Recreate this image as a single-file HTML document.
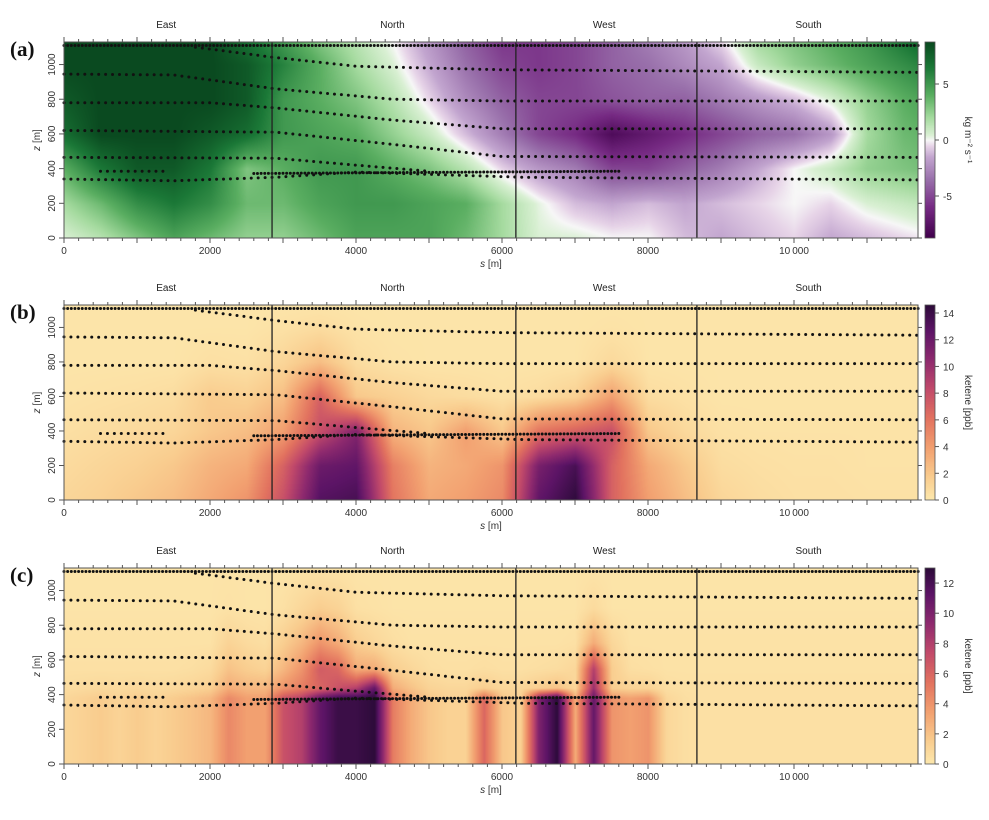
<!DOCTYPE html>
<html><head><meta charset="utf-8">
<style>
body{margin:0;background:#fff;width:989px;height:820px;overflow:hidden;position:relative;font-family:"Liberation Sans",sans-serif}
canvas{position:absolute}
svg{position:absolute;left:0;top:0}
</style></head>
<body>
<canvas id="ha" width="854" height="196" style="left:64px;top:42px"></canvas>
<canvas id="hb" width="854" height="195" style="left:64px;top:305px"></canvas>
<canvas id="hc" width="854" height="196" style="left:64px;top:568px"></canvas>
<canvas id="ca" width="10" height="196" style="left:925px;top:42px"></canvas>
<canvas id="cb" width="10" height="195" style="left:925px;top:305px"></canvas>
<canvas id="cc" width="10" height="196" style="left:925px;top:568px"></canvas>
<svg id="ov" width="989" height="820"></svg>
<script>
// ---- shared axis data ----
const sTicks = [0,2000,4000,6000,8000,10000];
const sTickLabels = ["0","2000","4000","6000","8000","10\u2009000"];
const zTicks = [0,200,400,600,800,1000];
const dividers = [2850,6190,8670];
const regionNames = ["East","North","West","South"];
const regionCenters = [1400,4500,7400,10200];

// ---- panel a grid (PRGn flux) ----
const aS = [0,500,1000,1500,2000,2500,3000,3500,4000,4500,5000,5500,6000,6500,7000,7500,8000,8500,9000,9500,10000,10500,11000,11500,12000];
const aZ = [0,200,400,600,800,1000,1130];
const aRow0   =[0.5,1.5,3,4.5,3.5,2.5,2.5,3.5,4.5,4.5,4.5,3.5,2,0.5,0.5,0,0,-1,-1.5,-1,-0.5,-1.5,-1,-0.5,0];
const aRow200 =[2,3.5,5.5,6.5,5.5,3.5,3.5,4.5,5,5,4.5,4,2,0.3,-1,-1.5,-1,-1.5,-1,-0.5,0,-0.5,0.5,1,1.5];
const aRow400 =[4,6.5,8,8,6.5,3,4,5,5,4,3,1.5,-0.5,-2,-3,-5,-5,-4,-3,-1.5,0,1,2.5,3,3.5];
const aRow600 =[7,8.8,8.8,8.8,8,7,5,4.5,4,2.5,1,-1,-3,-5,-6,-8,-7,-6,-5,-4,-3.5,-2,2,3.5,4];
const aRow800 =[8,8.8,8.8,8.8,8.8,8,5,4,3,1.5,-0.5,-2.5,-4,-5,-5,-4.5,-4,-4,-3,-2,-1,0.5,2.5,4,5];
const aRow1000=[8.8,8.8,8.8,8.8,8.8,8,6,4,2,0.5,-1.5,-3.5,-5,-5.5,-5,-4,-3.5,-2.5,-1.5,1,2.5,3.5,4.5,5.5,6.5];
const aRow1130=[8.8,8.8,8.8,8.8,8.8,7,5,3,1.5,0,-2,-4,-5.5,-5.5,-5,-4,-3,-2,-0.5,2,3,4,5,6.5,8];

// ---- panel b grid (ketene, interpolated) ----
const bS = [0,500,1000,1500,2000,2500,3000,3500,4000,4500,5000,5500,6000,6500,7000,7500,8000,8500,9000,9500,10000,10500,11000,11500,12000];
const bZ = [0,200,400,600,800,1000,1130];
const bRow0   =[1.2,1.5,2,2.5,3.5,4.5,8,13,13.5,6,3.5,4,5,12.5,14.5,7,4,2.5,1.2,0.8,0.6,0.6,0.5,0.5,0.5];
const bRow200 =[0.9,1.2,1.5,2,3,3.5,7,12,12.5,5.5,3,3.5,4.5,11.5,13.5,7,3.5,2,0.8,0.6,0.5,0.5,0.4,0.4,0.4];
const bRow400 =[0.6,0.8,1,1.2,2,2.5,4,8,11,3,2,4,2,6,7,8,2,1,0.5,0.4,0.4,0.4,0.4,0.4,0.4];
const bRow600 =[0.4,0.5,0.6,0.8,1.8,1.5,2.5,7,2,1.5,1,0.8,0.5,0.8,1.5,4,0.8,0.5,0.3,0.3,0.3,0.3,0.3,0.3,0.3];
const bRow800 =[0.3,0.3,0.3,0.3,0.6,0.5,1.2,2.5,0.8,0.4,0.3,0.3,0.3,0.3,0.3,1,0.3,0.3,0.3,0.3,0.3,0.3,0.3,0.3,0.3];
const bRow1000=[0.3,0.3,0.3,0.3,0.3,0.3,0.5,0.8,0.4,0.3,0.3,0.3,0.3,0.3,0.3,0.4,0.3,0.3,0.3,0.3,0.3,0.3,0.3,0.3,0.3];
const bRow1130=[0.3,0.3,0.3,0.3,0.3,0.3,0.3,0.3,0.3,0.3,0.3,0.3,0.3,0.3,0.3,0.3,0.3,0.3,0.3,0.3,0.3,0.3,0.3,0.3,0.3];

// ---- panel c grid (ketene, column-wise) ----
const cS = [0,250,500,750,1000,1250,1500,1750,2000,2250,2500,2750,3000,3250,3500,3750,4000,4250,4500,4750,5000,5250,5500,5750,6000,6250,6500,6750,7000,7250,7500,7750,8000,8250,8500,8750,9000,9250,9500,9750,10000,10250,10500,10750,11000,11250,11500,11750,12000];
const cZ = [0,380,440,550,700,900,1130];
const cRow0  =[1,1.3,1.6,1.2,1.6,1.2,1.6,2,2.5,4.5,3.5,3.5,7,8,11,12.5,12.5,13,5,3,1.8,1.3,1.3,6,1.8,1.3,10,13,3,11,4,3.5,4,1,0.6,0.5,0.5,0.5,0.5,0.5,0.5,0.5,0.5,0.5,0.5,0.5,0.5,0.5,0.5];
const cRow380=[1,1.3,1.6,1.2,1.6,1.2,1.6,2,2.5,4.5,3.5,3.5,7,8,11,12.5,12.5,13,5,3,1.8,1.3,1.3,6,1.8,1.3,10,13,3,11,4,3.5,4,1,0.6,0.5,0.5,0.5,0.5,0.5,0.5,0.5,0.5,0.5,0.5,0.5,0.5,0.5,0.5];
const cRow440=[0.7,0.8,0.9,0.8,0.9,0.8,0.9,1.1,1.4,3,2.5,2.5,4,5,6,7,8,11,3,2,1.2,1,1,1.5,1,1,1.5,2,1,9,1.5,1.2,1.2,0.6,0.5,0.5,0.5,0.5,0.5,0.5,0.5,0.5,0.5,0.5,0.5,0.5,0.5,0.5,0.5];
const cRow550=[0.5,0.5,0.5,0.5,0.5,0.5,0.5,0.6,0.8,2,1.5,1.2,2.5,4,6.5,6,3,3,1.5,1,0.6,0.5,0.5,0.6,0.5,0.5,0.6,0.7,1,8,1.5,0.6,0.5,0.4,0.4,0.4,0.4,0.4,0.4,0.4,0.4,0.4,0.4,0.4,0.4,0.4,0.4,0.4,0.4];
const cRow700=[0.4,0.4,0.4,0.4,0.4,0.4,0.4,0.4,0.4,1.2,0.8,0.6,1.5,2.5,4,3,1.5,1,0.6,0.4,0.4,0.4,0.4,0.4,0.4,0.4,0.4,0.4,0.5,3,1,0.4,0.4,0.4,0.4,0.4,0.4,0.4,0.4,0.4,0.4,0.4,0.4,0.4,0.4,0.4,0.4,0.4,0.4];
const cRow900=[0.3,0.3,0.3,0.3,0.3,0.3,0.3,0.3,0.3,0.4,0.3,0.3,0.5,1,1.5,1.2,0.5,0.4,0.3,0.3,0.3,0.3,0.3,0.3,0.3,0.3,0.3,0.3,0.3,0.8,0.3,0.3,0.3,0.3,0.3,0.3,0.3,0.3,0.3,0.3,0.3,0.3,0.3,0.3,0.3,0.3,0.3,0.3,0.3];
const cRow1130=[0.3,0.3,0.3,0.3,0.3,0.3,0.3,0.3,0.3,0.3,0.3,0.3,0.3,0.3,0.3,0.3,0.3,0.3,0.3,0.3,0.3,0.3,0.3,0.3,0.3,0.3,0.3,0.3,0.3,0.3,0.3,0.3,0.3,0.3,0.3,0.3,0.3,0.3,0.3,0.3,0.3,0.3,0.3,0.3,0.3,0.3,0.3,0.3,0.3];

// ---- flight tracks (node s, node z) ----
const trackS1=[0,11700];            const trackZ1=[1110,1110];
const trackS2=[1800,2900,4000,6000,11700]; const trackZ2=[1100,1040,990,970,955];
const trackS3=[0,1500,2900,4500,6000,11700]; const trackZ3=[945,940,860,800,790,790];
const trackS4=[0,2000,2900,4500,6000,11700]; const trackZ4=[780,780,750,680,630,630];
const trackS5=[0,2900,4500,6000,11700]; const trackZ5=[620,610,540,470,465];
const trackS6=[0,2900,4000,5000]; const trackZ6=[465,460,420,385];
const trackS7=[500,1400]; const trackZ7=[385,385];
const trackS8=[2600,7600]; const trackZ8=[372,385];
const trackS9=[0,1500,2900,4000,6300,11700]; const trackZ9=[340,330,350,380,350,335];

// ---- colour maps ----
const prgnV=[-8.75,-6,-3.5,-1.5,-0.5,0,0.5,2,4,6.5,8.75];
const prgnC=["#40004b","#762a83","#9970ab","#c2a5cf","#e7d4e8","#f7f7f7","#d9f0d3","#a6dba0","#5aae61","#1b7837","#0a4a20"];
const ketF=[0,0.12,0.27,0.42,0.57,0.72,0.87,1];
const ketC=["#fde9ae","#f9cd8f","#f2a070","#e2725f","#c24a6a","#8e2a6e","#5c1466","#2d0b3a"];

function hex(c){return [parseInt(c.substr(1,2),16),parseInt(c.substr(3,2),16),parseInt(c.substr(5,2),16)];}
function cmap(v,vs,cs){
  if(v<=vs[0])return hex(cs[0]); if(v>=vs[vs.length-1])return hex(cs[cs.length-1]);
  for(let i=0;i<vs.length-1;i++){ if(v<=vs[i+1]){const t=(v-vs[i])/(vs[i+1]-vs[i]);const a=hex(cs[i]),b=hex(cs[i+1]);return [a[0]+(b[0]-a[0])*t,a[1]+(b[1]-a[1])*t,a[2]+(b[2]-a[2])*t];}}
}
function idx(arr,v){for(let i=0;i<arr.length-1;i++){if(v<=arr[i+1])return i;}return arr.length-2;}
function sample(S,Z,rows,s,z){
  const i=idx(S,s),j=idx(Z,z);
  const ts=Math.max(0,Math.min(1,(s-S[i])/(S[i+1]-S[i]))),tz=Math.max(0,Math.min(1,(z-Z[j])/(Z[j+1]-Z[j])));
  const a=rows[j][i]*(1-ts)+rows[j][i+1]*ts, b=rows[j+1][i]*(1-ts)+rows[j+1][i+1]*ts;
  return a*(1-tz)+b*tz;
}
const PX=0.073; // px per metre along s
const panels=[
 {id:"ha",cb:"ca",top:42,h:196,S:aS,Z:aZ,rows:[aRow0,aRow200,aRow400,aRow600,aRow800,aRow1000,aRow1130],f:v=>cmap(v,prgnV,prgnC),vmin:-8.75,vmax:8.75,cbt:[-5,0,5],cbtitle:"kg m\u207B\u00B2 s\u207B\u00B9",letter:"(a)"},
 {id:"hb",cb:"cb",top:305,h:195,S:bS,Z:bZ,rows:[bRow0,bRow200,bRow400,bRow600,bRow800,bRow1000,bRow1130],f:v=>cmap(v/14.6,ketF,ketC),vmin:0,vmax:14.6,cbt:[0,2,4,6,8,10,12,14],cbtitle:"ketene [ppb]",letter:"(b)"},
 {id:"hc",cb:"cc",top:568,h:196,S:cS,Z:cZ,rows:[cRow0,cRow380,cRow440,cRow550,cRow700,cRow900,cRow1130],f:v=>cmap(v/13,ketF,ketC),vmin:0,vmax:13,cbt:[0,2,4,6,8,10,12],cbtitle:"ketene [ppb]",letter:"(c)"}
];
const tracksS=[trackS1,trackS2,trackS3,trackS4,trackS5,trackS6,trackS7,trackS8,trackS9];
const tracksZ=[trackZ1,trackZ2,trackZ3,trackZ4,trackZ5,trackZ6,trackZ7,trackZ8,trackZ9];
const NS="http://www.w3.org/2000/svg";
const ov=document.getElementById("ov");
function mk(tag,attrs,parent){const e=document.createElementNS(NS,tag);for(const k in attrs)e.setAttribute(k,attrs[k]);(parent||ov).appendChild(e);return e;}

panels.forEach((p,pi)=>{
  const bottom=p.top+p.h, zs=p.h/1130;
  const xS=s=>64+s*PX, yZ=z=>bottom-z*zs;
  const cv=document.getElementById(p.id),ctx=cv.getContext("2d"),img=ctx.createImageData(cv.width,cv.height);
  for(let y=0;y<cv.height;y++){const z=(cv.height-y)/zs;for(let x=0;x<cv.width;x++){const s=x/PX;const c=p.f(sample(p.S,p.Z,p.rows,s,z));const k=(y*cv.width+x)*4;img.data[k]=c[0];img.data[k+1]=c[1];img.data[k+2]=c[2];img.data[k+3]=255;}}
  ctx.putImageData(img,0,0);
  const cb=document.getElementById(p.cb),cx=cb.getContext("2d");
  for(let y=0;y<cb.height;y++){const v=p.vmax-(y/cb.height)*(p.vmax-p.vmin);const c=p.f(v);cx.fillStyle="rgb("+c.map(Math.round).join(",")+")";cx.fillRect(0,y,10,1);}
  const g=mk("g",{});
  
  
  mk("rect",{x:925,y:p.top,width:10,height:p.h,fill:"none",stroke:"#555","stroke-width":0.8},g);
  const cbs=p.h/(p.vmax-p.vmin);
  p.cbt.forEach(v=>{const y=p.top+(p.vmax-v)*cbs;mk("line",{x1:935,x2:939,y1:y,y2:y,stroke:"#555"},g);
    const t=mk("text",{x:943,y:y+4,"font-size":10,fill:"#333"},g);t.textContent=v<0?"-"+(-v):String(v);
    });
  const ct=mk("text",{x:0,y:0,"font-size":10,fill:"#333","text-anchor":"middle",transform:"translate(965,"+(p.top+p.h/2)+") rotate(90)"},g);
  ct.textContent=p.cbtitle;
  tracksS.forEach((TS,ti)=>{const TZ=tracksZ[ti];
    const dense=(ti===0||ti===7);
    for(let s=TS[0];s<=TS[TS.length-1];s+=(dense?50:95)){
      const i=idx(TS,s),t=(s-TS[i])/(TS[i+1]-TS[i]);const z=TZ[i]+(TZ[i+1]-TZ[i])*t;
      const d=mk("circle",{cx:xS(s),cy:yZ(z),r:1.5,fill:"#111"},g);
      
      
    }});
  dividers.forEach(s=>{const l=mk("line",{x1:xS(s),x2:xS(s),y1:p.top,y2:bottom,stroke:"#222","stroke-width":1.3},g);
    });
  regionNames.forEach((n,i)=>{const t=mk("text",{x:xS(regionCenters[i]),y:p.top-14,"font-size":10,fill:"#222","text-anchor":"middle"},g);t.textContent=n;
    });
  mk("rect",{x:64,y:p.top,width:854,height:p.h,fill:"none",stroke:"#555","stroke-width":1},g);
  for(let s=0;s<=11600;s+=200){const maj=s%1000===0;const x=xS(s);
    mk("line",{x1:x,x2:x,y1:bottom,y2:bottom+(maj?5:3),stroke:"#555"},g);
    mk("line",{x1:x,x2:x,y1:p.top,y2:p.top-(maj?5:3),stroke:"#555"},g);}
  sTicks.forEach((s,i)=>{const t=mk("text",{x:xS(s),y:bottom+16,"font-size":10,fill:"#333","text-anchor":"middle"},g);t.textContent=sTickLabels[i];
    });
  zTicks.forEach(z=>{const y=yZ(z);mk("line",{x1:64,x2:59,y1:y,y2:y,stroke:"#555"},g);mk("line",{x1:918,x2:922,y1:y,y2:y,stroke:"#555"},g);
    const t=mk("text",{x:0,y:0,"font-size":10,fill:"#333","text-anchor":"middle",transform:"translate(55,"+y+") rotate(-90)"},g);t.textContent=z;
    });
  const xt=mk("text",{x:491,y:bottom+29,"font-size":10,fill:"#333","text-anchor":"middle"},g);
  xt.innerHTML='<tspan font-style="italic">s</tspan> [m]';
  const yt=mk("text",{x:0,y:0,"font-size":10,fill:"#333","text-anchor":"middle",transform:"translate(40,"+(p.top+p.h/2)+") rotate(-90)"},g);
  yt.innerHTML='<tspan font-style="italic">z</tspan> [m]';
  const lt=mk("text",{x:10,y:p.top+14,"font-size":21,"font-weight":"bold","font-family":"Liberation Serif, serif",fill:"#111"},g);
  lt.textContent=p.letter;
});
</script>
</body></html>
